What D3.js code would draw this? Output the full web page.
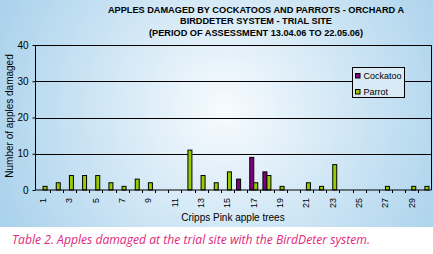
<!DOCTYPE html>
<html>
<head>
<meta charset="utf-8">
<script src="https://cdn.jsdelivr.net/npm/d3@7"></script>
<style>
  html, body { margin: 0; padding: 0; background: #fff; }
  svg { display: block; }
</style>
</head>
<body>
<svg id="chart" width="433" height="254"></svg>
<script>
// ====================================
// Données
// ====================================
const trees = d3.range(1, 31);
const series = ["Cockatoo", "Parrot"];
const cockatoo = [0,0,0,0,0,0,0,0,0,0, 0,0,0,0,0,3,9,5,0,0, 0,0,0,0,0,0,0,0,0,0];
const parrot   = [1,2,4,4,4,2,1,3,2,0, 0,11,4,2,5,0,2,4,1,0, 2,1,7,0,0,0,1,0,1,1];
const yTicks = [0, 10, 20, 30, 40];
const xLabels = d3.range(1, 31, 2);
const colors = { Cockatoo: "#800080", Parrot: "#99cc00" };
const titleLines = [
    "APPLES DAMAGED BY COCKATOOS AND PARROTS - ORCHARD A",
    "BIRDDETER SYSTEM - TRIAL SITE",
    "(PERIOD OF ASSESSMENT 13.04.06 TO 22.05.06)"
];

const rows = trees.map((t, i) => ({ tree: t, Cockatoo: cockatoo[i], Parrot: parrot[i] }));

// ====================================
// Mise en page
// ====================================
const W = 433, H = 254;
const plot = { left: 35.5, right: 431.5, top: 45, bottom: 190 };
const font = "'Liberation Sans', Arial, sans-serif";

const svg = d3.select("#chart");

// fond en dégradé (zone du graphique uniquement)
const grad = svg.append("defs").append("radialGradient")
    .attr("id", "bg")
    .attr("gradientUnits", "userSpaceOnUse")
    .attr("cx", 225).attr("cy", 110).attr("r", 260);
grad.append("stop").attr("offset", "0%").attr("stop-color", "#f7fbfe");
grad.append("stop").attr("offset", "100%").attr("stop-color", "#a6d0eb");

svg.append("rect")
    .attr("width", W).attr("height", 227)
    .attr("fill", "url(#bg)");

// ====================================
// Échelles
// ====================================
const x0 = d3.scaleBand()
    .domain(trees)
    .range([plot.left + 1, plot.right])
    .paddingInner(0);

const x1 = d3.scaleBand()
    .domain(series)
    .range([0, x0.bandwidth()])
    .paddingOuter(0.65);

const y = d3.scaleLinear()
    .domain([0, 40])
    .range([plot.bottom, plot.top]);

// ====================================
// Grille et cadre
// ====================================
svg.append("g")
    .selectAll("line")
    .data(yTicks.filter(d => d > 0))
    .join("line")
    .attr("x1", plot.left).attr("x2", plot.right)
    .attr("y1", d => Math.round(y(d)) + 0.5)
    .attr("y2", d => Math.round(y(d)) + 0.5)
    .attr("stroke", "#000");

svg.append("line")
    .attr("x1", plot.right).attr("x2", plot.right)
    .attr("y1", y(40)).attr("y2", plot.bottom)
    .attr("stroke", "#000");

// ====================================
// Barres
// ====================================
svg.append("g")
    .selectAll("g")
    .data(rows)
    .join("g")
    .attr("transform", d => `translate(${x0(d.tree)},0)`)
    .selectAll("rect")
    .data(d => series.map(s => ({ key: s, value: d[s] })).filter(v => v.value > 0))
    .join("rect")
    .attr("x", d => x1(d.key))
    .attr("y", d => y(d.value))
    .attr("width", x1.bandwidth())
    .attr("height", d => y(0) - y(d.value))
    .attr("fill", d => colors[d.key])
    .attr("stroke", "#000");

// ====================================
// Axes
// ====================================
const yAxis = svg.append("g")
    .attr("transform", `translate(${plot.left},0)`)
    .call(d3.axisLeft(y).tickValues(yTicks).tickSize(3).tickPadding(4));
yAxis.select(".domain").attr("d", `M0,${plot.top}V${plot.bottom}`);
yAxis.selectAll("text")
    .attr("font-family", font)
    .attr("font-size", 10)
    .attr("fill", "#000");

const xAxis = svg.append("g")
    .attr("transform", `translate(0,${plot.bottom})`);
xAxis.append("line")
    .attr("x1", plot.left).attr("x2", plot.right)
    .attr("stroke", "#000");
// petits traits entre les arbres
xAxis.selectAll("line.tick")
    .data(trees.slice(1))
    .join("line")
    .attr("class", "tick")
    .attr("x1", d => Math.round(x0(d)) + 0.5)
    .attr("x2", d => Math.round(x0(d)) + 0.5)
    .attr("y1", 0).attr("y2", 3)
    .attr("stroke", "#000");
xAxis.selectAll("text")
    .data(xLabels)
    .join("text")
    .attr("transform", d => `translate(${x0(d) + x0.bandwidth() / 2 + 3},8) rotate(-90)`)
    .attr("text-anchor", "end")
    .attr("font-family", font)
    .attr("font-size", 9)
    .attr("fill", "#000")
    .text(d => d);

// titres des axes
svg.append("text")
    .attr("x", 233).attr("y", 221)
    .attr("text-anchor", "middle")
    .attr("font-family", font)
    .attr("font-size", 10)
    .text("Cripps Pink apple trees");

svg.append("text")
    .attr("transform", "translate(13,116) rotate(-90)")
    .attr("text-anchor", "middle")
    .attr("font-family", font)
    .attr("font-size", 10)
    .text("Number of apples damaged");

// titre principal
svg.append("g")
    .selectAll("text")
    .data(titleLines)
    .join("text")
    .attr("x", 256)
    .attr("y", (d, i) => 12.5 + i * 11.6)
    .attr("text-anchor", "middle")
    .attr("font-family", font)
    .attr("font-size", 9.2)
    .attr("font-weight", "bold")
    .text(d => d);

// ====================================
// Légende
// ====================================
const legend = svg.append("g").attr("transform", "translate(352.5,67.5)");
legend.append("rect")
    .attr("width", 52).attr("height", 30)
    .attr("fill", "#d7eaf6")
    .attr("stroke", "#000");

const items = legend.selectAll("g.item")
    .data(series)
    .join("g")
    .attr("class", "item")
    .attr("transform", (d, i) => `translate(3,${6 + i * 16})`);
items.append("rect")
    .attr("width", 4.5).attr("height", 4.5)
    .attr("fill", d => colors[d])
    .attr("stroke", "#000");
items.append("text")
    .attr("x", 8).attr("y", 5)
    .attr("font-family", font)
    .attr("font-size", 9)
    .text(d => d);

// ====================================
// Légende du tableau
// ====================================
svg.append("text")
    .attr("x", 12).attr("y", 243.5)
    .attr("font-family", "'Open Sans', 'Noto Sans', sans-serif")
    .attr("font-style", "italic")
    .attr("font-size", 12.5)
    .attr("fill", "#e0287c")
    .attr("textLength", 358)
    .attr("lengthAdjust", "spacingAndGlyphs")
    .text("Table 2. Apples damaged at the trial site with the BirdDeter system.");
</script>
</body>
</html>
